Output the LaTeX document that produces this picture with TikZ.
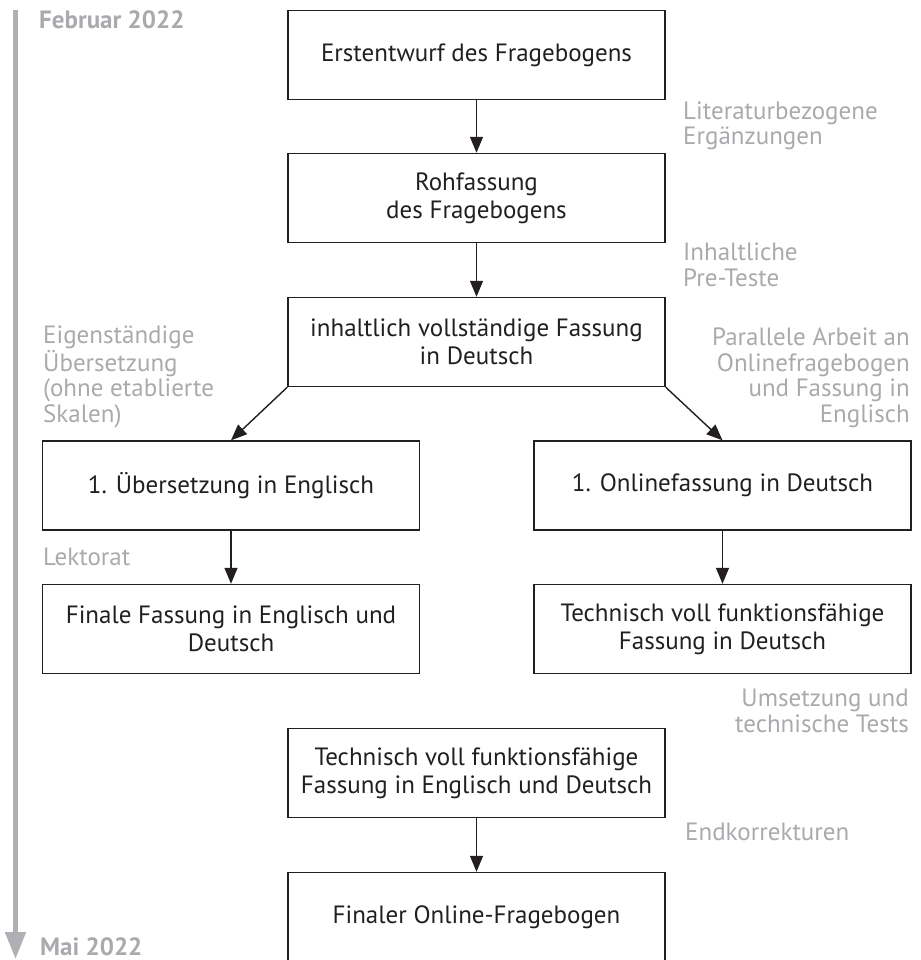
\documentclass[tikz,border=0pt]{standalone}
\usepackage{fontspec}
\setmainfont{PT Sans}
\usetikzlibrary{arrows.meta}

\definecolor{linecol}{RGB}{35,31,32}
\definecolor{notecol}{RGB}{170,170,174}
\definecolor{timecol}{RGB}{176,176,180}

\begin{document}
\begin{tikzpicture}[x=1pt, y=-1pt,
    box/.style = {draw=linecol, line width=1.4pt, text=linecol, minimum width=377pt,
                  minimum height=89pt, align=center, inner sep=0pt,
                  font=\fontsize{25}{28}\selectfont},
    note/.style = {text=notecol, inner sep=0pt, font=\fontsize{25}{25.5}\selectfont},
    datum/.style = {text=notecol, inner sep=0pt, font=\fontsize{25}{27}\selectfont\bfseries},
    EdgeStyle/.style = {draw=linecol, line width=1.4pt, -{Triangle[length=16pt,width=13pt]}}]
    \useasboundingbox (0,0) rectangle (920,960);
    \clip (0,0) rectangle (920,960);

    % Time line
    \coordinate (tstart) at (15.5,10);
    \coordinate (tend) at (15.5,959);
    \draw[timecol, line width=5pt, -{Triangle[length=27pt,width=20pt]}] (tstart) -- (tend);
    \node[datum, anchor=base west] (feb) at (39,29) {Februar 2022};
    \node[datum, anchor=base west] (mai) at (40,955) {Mai 2022};

    % Boxes
    \node[box] (erst) at (476.5,55) {Erstentwurf des Fragebogens};
    \node[box] (roh) at (476.5,198) {Rohfassung\\des Fragebogens};
    \node[box] (inhalt) at (476.5,342) {inhaltlich vollständige Fassung\\in Deutsch};
    \node[box] (ueber) at (231,485.5) {1. Übersetzung in Englisch};
    \node[box] (online) at (722.5,485.5) {1. Onlinefassung in Deutsch};
    \node[box] (final) at (231,629) {Finale Fassung in Englisch und\\Deutsch};
    \node[box] (technde) at (722.5,629) {Technisch voll funktionsfähige\\Fassung in Deutsch};
    \node[box] (techn) at (476.5,773) {Technisch voll funktionsfähige\\Fassung in Englisch und Deutsch};
    \node[box] (onlinebogen) at (476.5,917) {Finaler Online-Fragebogen};

    % Notes (base = baseline of the last line)
    \node[note, anchor=base west, align=left] (litlbl) at (683,145) {Literaturbezogene\\Ergänzungen};
    \node[note, anchor=base west, align=left] (prelbl) at (683,286) {Inhaltliche\\Pre-Teste};
    \node[note, anchor=base west, align=left] (eigenlbl) at (43,422) {Eigenständige\\Übersetzung\\(ohne etablierte\\Skalen)};
    \node[note, anchor=base east, align=right] (parlbl) at (910,422) {Parallele Arbeit an\\Onlinefragebogen\\und Fassung in\\Englisch};
    \node[note, anchor=base west] (lektlbl) at (43,565) {Lektorat};
    \node[note, anchor=base east, align=right] (umslbl) at (909,732) {Umsetzung und\\technische Tests};
    \node[note, anchor=base west] (endlbl) at (685,840) {Endkorrekturen};

    % Edges
    \foreach \a/\b in {erst/roh, roh/inhalt, ueber/final, online/technde, techn/onlinebogen}
        \draw[EdgeStyle] (\a) -- (\b);
    \draw[EdgeStyle] (inhalt.south west) -- (ueber.north);
    \draw[EdgeStyle] (inhalt.south east) -- (online.north);
\end{tikzpicture}
\end{document}
